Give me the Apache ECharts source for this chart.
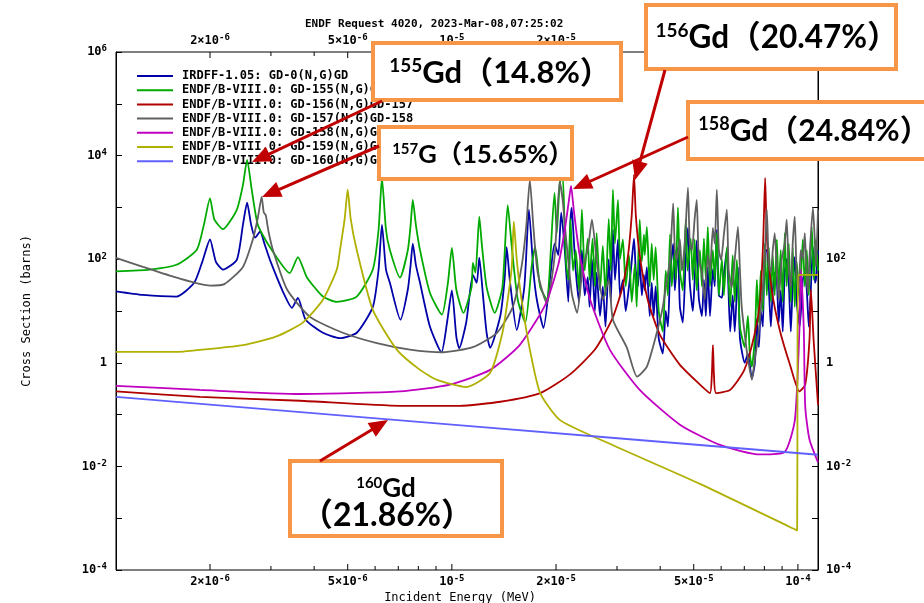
<!DOCTYPE html>
<html><head><meta charset="utf-8">
<script src="https://cdn.jsdelivr.net/npm/echarts@6/dist/echarts.min.js"></script>
<style>html,body{margin:0;padding:0;background:#fff}#c{width:924px;height:603px}</style>
</head><body><div id="c"></div>
<script>
// ---------------- data (energy in MeV, cross section in barns) ----------------
const seriesNames = [
  'IRDFF-1.05: GD-0(N,G)GD',
  'ENDF/B-VIII.0: GD-155(N,G)GD-156',
  'ENDF/B-VIII.0: GD-156(N,G)GD-157',
  'ENDF/B-VIII.0: GD-157(N,G)GD-158',
  'ENDF/B-VIII.0: GD-158(N,G)GD-159',
  'ENDF/B-VIII.0: GD-159(N,G)GD-160',
  'ENDF/B-VIII.0: GD-160(N,G)GD-161'
];
const seriesColors = ['#0000a8', '#00aa00', '#b00000', '#606060', '#c000c0', '#b0b000', '#6060ff'];

const gdNat = [[1.07e-6,24],[1.28e-6,20.5],[1.60e-6,19],[1.80e-6,35],[1.90e-6,89],[2.0e-6,240],[2.08e-6,89],[2.18e-6,63],[2.39e-6,97],[2.49e-6,460],[2.56e-6,1230],[2.63e-6,460],[2.70e-6,260],[2.79e-6,340],[2.88e-6,190],[2.98e-6,97],[3.26e-6,22.5],[3.45e-6,11.5],[3.59e-6,18],[3.78e-6,6.8],[4.24e-6,3.8],[4.75e-6,3.0],[5.31e-6,3.8],[5.91e-6,12],[6.14e-6,63],[6.28e-6,460],[6.45e-6,63],[6.62e-6,35],[7.1e-6,6.8],[7.46e-6,26],[7.6e-6,78],[7.71e-6,200],[7.87e-6,78],[8.09e-6,35],[8.64e-6,5],[9.33e-6,1.6],[9.68e-6,5.9],[1.0e-5,25],[1.03e-5,3.2],[1.05e-5,1.9],[1.10e-5,6],[1.15e-5,50],[1.18e-5,35],[1.20e-5,107],[1.23e-5,20],[1.26e-5,3.8],[1.29e-5,1.95],[1.38e-5,8],[1.42e-5,40],[1.44e-5,170],[1.47e-5,40],[1.54e-5,4.3],[1.62e-5,30],[1.67e-5,900],[1.72e-5,60],[1.76e-5,16.5],[1.84e-5,4.7],[1.92e-5,40],[1.98e-5,200],[2.03e-5,120],[2.07e-5,790],[2.12e-5,150],[2.17e-5,15],[2.20e-5,500],[2.22e-5,980],[2.25e-5,250],[2.28e-5,60],[2.33e-5,15],[2.375e-5,150],[2.42e-5,20],[2.47e-5,45],[2.50e-5,12],[2.54e-5,100],[2.59e-5,10],[2.62e-5,55],[2.68e-5,8],[2.73e-5,30],[2.78e-5,5],[2.84e-5,100],[2.88e-5,15],[2.92e-5,370],[2.96e-5,40],[3.02e-5,240],[3.06e-5,20],[3.12e-5,40],[3.18e-5,10],[3.25e-5,30],[3.29e-5,60],[3.36e-5,250],[3.40e-5,60],[3.45e-5,30],[3.49e-5,100],[3.54e-5,20],[3.59e-5,50],[3.61e-5,25],[3.66e-5,70],[3.73e-5,8],[3.78e-5,35],[3.83e-5,8],[3.88e-5,30],[3.96e-5,3],[4.07e-5,1.5],[4.15e-5,10],[4.21e-5,5],[4.27e-5,50],[4.36e-5,200],[4.41e-5,25],[4.50e-5,170],[4.56e-5,12],[4.65e-5,6],[4.74e-5,100],[4.81e-5,400],[4.87e-5,35],[4.97e-5,10],[5.03e-5,40],[5.10e-5,230],[5.17e-5,18],[5.28e-5,8],[5.35e-5,40],[5.42e-5,8],[5.49e-5,70],[5.57e-5,8],[5.68e-5,65],[5.75e-5,30],[5.83e-5,370],[5.91e-5,20],[6.03e-5,18],[6.11e-5,50],[6.23e-5,150],[6.37e-5,4],[6.48e-5,20],[6.57e-5,4],[6.71e-5,70],[6.80e-5,3],[7.02e-5,1],[7.17e-5,1.5],[7.36e-5,0.5],[7.51e-5,1],[7.61e-5,7],[7.71e-5,2],[7.81e-5,10],[7.92e-5,5],[8.02e-5,150],[8.13e-5,150],[8.24e-5,30],[8.35e-5,5],[8.46e-5,25],[8.57e-5,55],[8.69e-5,40],[8.80e-5,6],[8.92e-5,25],[9.04e-5,4],[9.16e-5,55],[9.28e-5,100],[9.41e-5,35],[9.54e-5,4],[9.66e-5,35],[9.79e-5,110],[9.92e-5,15],[1.012e-4,5],[1.033e-4,40],[1.047e-4,55],[1.061e-4,25],[1.075e-4,5],[1.097e-4,70],[1.105e-4,170],[1.120e-4,35],[1.127e-4,40],[1.143e-4,150]];

const gd155 = [[1.07e-6,58],[1.34e-6,63],[1.60e-6,78],[1.83e-6,150],[1.92e-6,460],[2.0e-6,1500],[2.06e-6,580],[2.18e-6,380],[2.39e-6,900],[2.49e-6,2700],[2.56e-6,8300],[2.64e-6,2200],[2.75e-6,460],[2.98e-6,170],[3.40e-6,54],[3.59e-6,110],[3.81e-6,45],[4.24e-6,19],[4.65e-6,15],[5.31e-6,19],[5.91e-6,63],[6.14e-6,370],[6.28e-6,3700],[6.45e-6,370],[6.62e-6,150],[7.08e-6,44],[7.46e-6,150],[7.6e-6,460],[7.71e-6,1400],[7.87e-6,460],[8.09e-6,150],[8.64e-6,22.5],[9.36e-6,8.5],[9.74e-6,35],[1.0e-5,165],[1.03e-5,26],[1.08e-5,9.2],[1.14e-5,29],[1.15e-5,85],[1.17e-5,55],[1.20e-5,660],[1.22e-5,200],[1.26e-5,29],[1.33e-5,9.2],[1.40e-5,29],[1.45e-5,1100],[1.49e-5,170],[1.55e-5,16.5],[1.63e-5,5.9],[1.70e-5,72],[1.74e-5,170],[1.80e-5,29],[1.88e-5,16.5],[1.98e-5,1900],[2.01e-5,320],[2.05e-5,3000],[2.09e-5,4000],[2.12e-5,320],[2.14e-5,80],[2.17e-5,40],[2.20e-5,600],[2.24e-5,60],[2.28e-5,150],[2.33e-5,25],[2.375e-5,900],[2.42e-5,60],[2.47e-5,250],[2.50e-5,40],[2.55e-5,250],[2.59e-5,30],[2.62e-5,320],[2.68e-5,25],[2.73e-5,180],[2.78e-5,20],[2.84e-5,600],[2.88e-5,60],[2.92e-5,2200],[2.96e-5,200],[3.02e-5,1400],[3.06e-5,100],[3.12e-5,240],[3.18e-5,30],[3.25e-5,120],[3.31e-5,15],[3.38e-5,80],[3.42e-5,12],[3.49e-5,580],[3.54e-5,90],[3.59e-5,300],[3.61e-5,120],[3.66e-5,420],[3.73e-5,30],[3.78e-5,200],[3.83e-5,40],[3.88e-5,170],[3.96e-5,10],[4.07e-5,4],[4.15e-5,60],[4.21e-5,20],[4.27e-5,300],[4.32e-5,30],[4.41e-5,150],[4.44e-5,40],[4.50e-5,1000],[4.56e-5,60],[4.65e-5,25],[4.74e-5,580],[4.80e-5,60],[4.90e-5,250],[4.97e-5,40],[5.03e-5,240],[5.10e-5,25],[5.21e-5,150],[5.28e-5,30],[5.35e-5,250],[5.42e-5,40],[5.49e-5,420],[5.57e-5,30],[5.68e-5,150],[5.75e-5,40],[5.83e-5,320],[5.91e-5,20],[6.03e-5,100],[6.11e-5,20],[6.23e-5,170],[6.37e-5,12],[6.48e-5,120],[6.57e-5,15],[6.66e-5,97],[6.80e-5,5],[7.02e-5,2.0],[7.17e-5,8],[7.26e-5,1.5],[7.36e-5,0.84],[7.51e-5,3],[7.61e-5,40],[7.71e-5,6],[7.81e-5,60],[7.92e-5,10],[8.02e-5,200],[8.13e-5,20],[8.24e-5,170],[8.35e-5,15],[8.46e-5,120],[8.57e-5,20],[8.69e-5,240],[8.80e-5,25],[8.92e-5,150],[9.04e-5,15],[9.16e-5,320],[9.28e-5,30],[9.41e-5,200],[9.54e-5,15],[9.66e-5,170],[9.79e-5,12],[9.92e-5,90],[1.012e-4,15],[1.033e-4,240],[1.047e-4,30],[1.061e-4,150],[1.075e-4,20],[1.097e-4,420],[1.112e-4,40],[1.127e-4,240],[1.143e-4,60]];

const gd156 = [[1.07e-6,0.28],[1.87e-6,0.22],[3.64e-6,0.185],[7.08e-6,0.148],[1.05e-5,0.148],[1.38e-5,0.177],[1.80e-5,0.26],[2.19e-5,0.59],[2.59e-5,1.8],[2.90e-5,6.8],[3.10e-5,26],[3.23e-5,120],[3.31e-5,720],[3.36e-5,4300],[3.40e-5,720],[3.49e-5,120],[3.68e-5,16.5],[3.99e-5,3.5],[4.56e-5,0.91],[5.21e-5,0.38],[5.57e-5,0.26],[5.64e-5,0.59],[5.68e-5,2.2],[5.72e-5,0.59],[5.8e-5,0.26],[6.37e-5,0.30],[7.0e-5,0.73],[7.49e-5,3.5],[7.78e-5,16.5],[7.94e-5,240],[8.04e-5,3700],[8.14e-5,240],[8.40e-5,26],[8.86e-5,4.3],[9.49e-5,0.91],[1.01e-4,0.28],[1.05e-4,0.38],[1.08e-4,2.8],[1.09e-4,26],[1.11e-4,2.8],[1.143e-4,0.155]];

const gd157 = [[1.07e-6,106],[1.28e-6,71],[1.60e-6,44],[2.0e-6,31],[2.2e-6,33],[2.49e-6,71],[2.66e-6,240],[2.75e-6,630],[2.82e-6,1600],[2.86e-6,800],[2.90e-6,700],[2.95e-6,350],[3.04e-6,150],[3.34e-6,26],[3.89e-6,7.7],[4.84e-6,3.8],[6.07e-6,2.4],[7.56e-6,1.8],[9.42e-6,1.6],[1.15e-5,2.0],[1.35e-5,3.8],[1.50e-5,12],[1.59e-5,72],[1.64e-5,420],[1.68e-5,3400],[1.72e-5,420],[1.77e-5,55],[1.88e-5,14],[1.98e-5,110],[2.05e-5,3100],[2.09e-5,1400],[2.14e-5,240],[2.22e-5,22.5],[2.30e-5,9.2],[2.39e-5,72],[2.47e-5,150],[2.54e-5,580],[2.62e-5,97],[2.73e-5,16.5],[2.84e-5,40],[2.92e-5,6.8],[3.20e-5,2.0],[3.43e-5,0.54],[3.66e-5,0.84],[3.91e-5,3.8],[4.07e-5,12],[4.18e-5,40],[4.27e-5,97],[4.36e-5,1200],[4.41e-5,150],[4.47e-5,97],[4.56e-5,240],[4.62e-5,60],[4.71e-5,200],[4.81e-5,2400],[4.87e-5,200],[4.94e-5,150],[5.03e-5,600],[5.10e-5,1400],[5.17e-5,100],[5.28e-5,55],[5.38e-5,16.5],[5.49e-5,120],[5.57e-5,60],[5.68e-5,400],[5.75e-5,200],[5.83e-5,2200],[5.91e-5,150],[6.0e-5,97],[6.11e-5,300],[6.23e-5,900],[6.31e-5,60],[6.44e-5,29],[6.57e-5,100],[6.71e-5,420],[6.80e-5,60],[6.88e-5,12],[7.04e-5,3],[7.17e-5,1.2],[7.36e-5,0.47],[7.51e-5,1.2],[7.66e-5,2.8],[7.81e-5,10],[7.92e-5,29],[8.02e-5,100],[8.13e-5,900],[8.24e-5,80],[8.35e-5,55],[8.46e-5,150],[8.57e-5,320],[8.69e-5,60],[8.80e-5,16.5],[8.98e-5,100],[9.16e-5,200],[9.28e-5,580],[9.41e-5,60],[9.54e-5,29],[9.66e-5,200],[9.79e-5,660],[9.92e-5,50],[1.006e-4,29],[1.019e-4,150],[1.033e-4,100],[1.047e-4,320],[1.061e-4,40],[1.068e-4,22.5],[1.083e-4,150],[1.105e-4,1000],[1.120e-4,200],[1.127e-4,72],[1.143e-4,900]];

const gd158 = [[1.07e-6,0.36],[1.87e-6,0.30],[3.64e-6,0.25],[7.08e-6,0.28],[9.87e-6,0.38],[1.29e-5,0.73],[1.57e-5,2.2],[1.86e-5,13],[2.03e-5,78],[2.12e-5,370],[2.18e-5,1400],[2.21e-5,2600],[2.25e-5,900],[2.34e-5,120],[2.51e-5,16.5],[2.86e-5,1.8],[3.49e-5,0.30],[4.56e-5,0.064],[5.95e-5,0.026],[7.78e-5,0.017],[9.15e-5,0.019],[9.80e-5,0.079],[1.01e-4,4.3],[1.02e-4,63],[1.04e-4,4.3],[1.05e-4,0.14],[1.08e-4,0.033],[1.143e-4,0.012]];

const gd159 = [[1.07e-6,1.63],[1.60e-6,1.63],[2.0e-6,1.86],[2.49e-6,2.2],[3.1e-6,3.2],[3.70e-6,5.9],[4.24e-6,16.5],[4.65e-6,63],[4.75e-6,150],[4.9e-6,600],[5.0e-6,2200],[5.1e-6,600],[5.31e-6,150],[5.91e-6,10.5],[6.93e-6,1.8],[8.09e-6,0.73],[9.06e-6,0.47],[1.10e-5,0.34],[1.29e-5,0.64],[1.40e-5,3.8],[1.45e-5,16.5],[1.49e-5,72],[1.51e-5,530],[1.54e-5,97],[1.59e-5,16.5],[1.68e-5,1.8],[1.80e-5,0.26],[2.05e-5,0.079],[2.68e-5,0.033],[5.21e-5,0.0046],[9.95e-5,0.00058],[9.97e-5,0.3],[1.0e-4,50],[1.143e-4,50]];

const gd160 = [[1.07e-6,0.22],[1.0e-5,0.064],[1.143e-4,0.0168]];

const allSeries = [gdNat, gd155, gd156, gd157, gd158, gd159, gd160];

// axis ranges and ticks
const X_MIN = 1.07e-6, X_MAX = 1.143e-4;
const Y_MIN = 1e-4, Y_MAX = 1e6;
const xTickValues = [2e-6,3e-6,4e-6,5e-6,6e-6,7e-6,8e-6,9e-6,1e-5,2e-5,3e-5,4e-5,5e-5,6e-5,7e-5,8e-5,9e-5,1e-4];
const xTickLabels = ['2×10{s|-6}','','','5×10{s|-6}','','','','','10{s|-5}','2×10{s|-5}','','','5×10{s|-5}','','','','','10{s|-4}'];

const titleText = 'ENDF Request 4020, 2023-Mar-08,07:25:02';
const xName = 'Incident Energy (MeV)';
const yName = 'Cross Section (barns)';

// annotations
const notes = [
  {sup:'155', main:'Gd（14.8%）', cx:500, cy:73, size:31},
  {sup:'156', main:'Gd（20.47%）', cx:777, cy:38, size:31.5},
  {sup:'157', main:'G（15.65%）', cx:483, cy:155, size:25.5},
  {sup:'158', main:'Gd（24.84%）', cx:814, cy:131, size:30}
];

// ---------------- chart ----------------
const MONO = '"DejaVu Sans Mono", monospace';
const ANNO = 'Lato, "Noto Sans CJK SC", sans-serif';
const chart = echarts.init(document.getElementById('c'), null, {renderer:'canvas'});

const supRich = {s:{fontSize:9, fontWeight:'bold', fontFamily:MONO, color:'#000', padding:[0,0,6,0]}};
function yLabel(v){
  const e = Math.round(Math.log10(v));
  if (e % 2 !== 0) return '';
  if (e === 0) return '1';
  return '10{s|' + e + '}';
}
const yAxisCommon = {
  type:'log', logBase:10, min:Y_MIN, max:Y_MAX, splitNumber:10,
  axisLine:{show:true, lineStyle:{color:'#000', width:1}},
  axisTick:{show:true, inside:true, length:6, lineStyle:{color:'#000'}},
  splitLine:{show:false}, minorTick:{show:false},
  axisLabel:{formatter:yLabel, fontFamily:MONO, fontWeight:'bold', fontSize:12, color:'#000', rich:supRich}
};

const orange = '#F79646', red = '#C00000';
function arrow(x1,y1,x2,y2){
  const dx=x2-x1, dy=y2-y1, L=Math.hypot(dx,dy), ux=dx/L, uy=dy/L;
  const hl=19, hw=8;
  const bx=x2-ux*hl, by=y2-uy*hl;
  return [
    {type:'line', z:110, shape:{x1, y1, x2:bx+ux*2, y2:by+uy*2}, style:{stroke:red, lineWidth:3}},
    {type:'polygon', z:110, shape:{points:[[x2,y2],[bx-uy*hw,by+ux*hw],[bx+uy*hw,by-ux*hw]]}, style:{fill:red}}
  ];
}
function box(x,y,w,h){
  return {type:'rect', z:100, shape:{x,y,width:w,height:h}, style:{fill:'#fff', stroke:orange, lineWidth:4}};
}
function noteText(n){
  return {type:'text', z:105, x:n.cx, y:n.cy, style:{
    text:'{s|'+n.sup+'}{b|'+n.main+'}', align:'center', verticalAlign:'middle', fill:'#000',
    rich:{
      s:{fontSize:Math.round(n.size*0.6), fontWeight:'bold', fontFamily:ANNO, fill:'#000', padding:[0,0,Math.round(n.size*0.45),0]},
      b:{fontSize:n.size, fontWeight:'bold', fontFamily:ANNO, fill:'#000'}
    }}};
}

const graphics = [
  box(373,43,248,57), box(646,5,250,64), box(379,127,193,52), box(688,102,240,57), box(290,461,212,75),
  ...notes.map(noteText),
  {type:'text', z:105, x:386, y:489, style:{text:'{s|160}{b|Gd}', align:'center', verticalAlign:'middle', fill:'#000',
    rich:{s:{fontSize:15, fontWeight:'bold', fontFamily:ANNO, fill:'#000', padding:[0,0,11,0]}, b:{fontSize:26, fontWeight:'bold', fontFamily:ANNO, fill:'#000'}}}},
  {type:'text', z:105, x:387, y:516, style:{text:'（21.86%）', align:'center', verticalAlign:'middle', fill:'#000', font:'bold 32px '+ANNO}},
  ...arrow(382,101,252,162),
  ...arrow(379,146,262,197),
  ...arrow(665,70,635,180),
  ...arrow(688,137,573,189),
  ...arrow(320,461,388,420)
];

const lineSeries = allSeries.map((d,i)=>({
  name: seriesNames[i], type:'line', data:d, symbol:'none', showSymbol:false, sampling:null,
  smooth:0.2,
  lineStyle:{color:seriesColors[i], width:1.8}, itemStyle:{color:seriesColors[i]},
  emphasis:{disabled:true}, silent:true, z:2+i
}));

const tickSeries = {
  type:'custom', silent:true, clip:false, z:20,
  data: xTickValues.map((v,i)=>[v, 1, i]),
  renderItem:(params, api)=>{
    const v = api.value(0), idx = api.value(2);
    const lab = xTickLabels[idx];
    const b = api.coord([v, Y_MIN]), t = api.coord([v, Y_MAX]);
    const len = lab ? 6 : 4;
    const ch = [
      {type:'line', shape:{x1:b[0], y1:b[1], x2:b[0], y2:b[1]-len}, style:{stroke:'#000', lineWidth:1}},
      {type:'line', shape:{x1:t[0], y1:t[1], x2:t[0], y2:t[1]+len}, style:{stroke:'#000', lineWidth:1}}
    ];
    if (lab) {
      const st = {text:lab, align:'center', fill:'#000', font:'bold 12px '+MONO,
        rich:{s:{fontSize:9, fontWeight:'bold', fontFamily:MONO, fill:'#000', padding:[0,0,6,0]}}};
      ch.push({type:'text', x:b[0], y:b[1]+4, style:Object.assign({verticalAlign:'top'}, st)});
      ch.push({type:'text', x:t[0], y:t[1]-4, style:Object.assign({verticalAlign:'bottom'}, st)});
    }
    return {type:'group', children:ch};
  }
};

chart.setOption({
  animation:false,
  backgroundColor:'#fff',
  title:{text:titleText, left:300, top:14, textStyle:{fontFamily:MONO, fontWeight:'bold', fontSize:11, color:'#000'}},
  grid:{left:116, right:106, top:52, bottom:33, show:true, borderColor:'#000', borderWidth:1,
    containLabel:false, outerBoundsMode:'none'},
  legend:{
    data:seriesNames, orient:'vertical', left:132, top:64, itemWidth:36, itemHeight:2, itemGap:0.2,
    selectedMode:false, icon:'rect',
    textStyle:{fontFamily:MONO, fontWeight:'bold', fontSize:12, color:'#000', lineHeight:14, padding:[0,0,0,4]}
  },
  xAxis:{type:'log', logBase:10, min:X_MIN, max:X_MAX,
    axisLine:{show:false}, axisTick:{show:false}, axisLabel:{show:false}, splitLine:{show:false},
    name:xName, nameLocation:'middle', nameGap:22,
    nameTextStyle:{fontFamily:MONO, fontSize:12, color:'#000', padding:[0,14,0,0]}},
  yAxis:[
    Object.assign({}, yAxisCommon, {position:'left', axisLabel:Object.assign({}, yAxisCommon.axisLabel, {margin:9}),
      name:yName, nameLocation:'middle', nameGap:83, nameRotate:90,
      nameTextStyle:{fontFamily:MONO, fontSize:12, color:'#000'}}),
    Object.assign({}, yAxisCommon, {position:'right', axisLabel:Object.assign({}, yAxisCommon.axisLabel, {margin:8})})
  ],
  series:[...lineSeries, tickSeries],
  graphic:graphics
});
</script></body></html>
